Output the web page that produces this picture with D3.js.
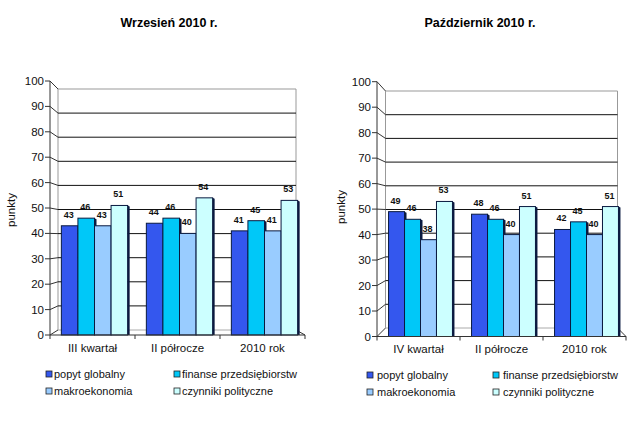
<!DOCTYPE html>
<html><head><meta charset="utf-8">
<script src="https://cdn.jsdelivr.net/npm/d3@7"></script>
<style>body{margin:0;background:#fff}svg{display:block;font-family:"Liberation Sans",Arial,sans-serif}</style>
</head><body><svg id="c" width="640" height="429"></svg>
<script>
const seriesNames = ["popyt globalny","finanse przedsiębiorstw","makroekonomia","czynniki polityczne"];
const seriesColors = ["#3457ee","#00c8f8","#99ccff","#ccffff"];
const yTicks = [0,10,20,30,40,50,60,70,80,90,100];

const titleSep = "Wrzesień 2010 r.";
const catsSep = ["III kwartał","II półrocze","2010 rok"];
const popytSep = [43,44,41];
const finanseSep = [46,46,45];
const makroSep = [43,40,41];
const czynnikiSep = [51,54,53];

const titleOct = "Październik 2010 r.";
const catsOct = ["IV kwartał","II półrocze","2010 rok"];
const popytOct = [49,48,42];
const finanseOct = [46,46,45];
const makroOct = [38,40,40];
const czynnikiOct = [53,51,51];

const svg = d3.select("#c");

function panel(cfg){
  const g = svg.append("g");
  const yF = d3.scaleLinear().domain([0,100]).range([cfg.y0f,cfg.y100f]);
  const yB = d3.scaleLinear().domain([0,100]).range([cfg.y0b,cfg.y100b]);
  const xAxis = d3.scaleBand().domain(cfg.cats).range([cfg.ax0,cfg.ax1]);
  const xBar = d3.scaleBand().domain(cfg.cats).range([cfg.ax0+cfg.barShift,cfg.ax1+cfg.barShift]).paddingInner(cfg.pin).paddingOuter(cfg.pout);
  const xS = d3.scaleBand().domain(d3.range(4)).range([0,xBar.bandwidth()]);

  // title
  g.append("text").attr("x",cfg.tx).attr("y",27).attr("text-anchor","middle")
   .attr("font-weight","bold").attr("font-size",12.5).text(cfg.title);
  // back wall
  g.append("line").attr("x1",cfg.bx0).attr("x2",cfg.bx1).attr("y1",yB(100)).attr("y2",yB(100)).attr("stroke","#999");
  g.append("line").attr("x1",cfg.bx1).attr("x2",cfg.bx1).attr("y1",yB(100)).attr("y2",yB(0)).attr("stroke","#999");
  g.append("line").attr("x1",cfg.bx0).attr("x2",cfg.bx0).attr("y1",yB(100)).attr("y2",yB(0)).attr("stroke","#999");
  g.selectAll(".grid").data(yTicks.filter(v=>v>0&&v<100)).enter().append("line")
   .attr("x1",cfg.bx0).attr("x2",cfg.bx1).attr("y1",d=>yB(d)).attr("y2",d=>yB(d)).attr("stroke","#111");
  g.selectAll(".diag").data(yTicks).enter().append("line")
   .attr("x1",cfg.ax0).attr("y1",d=>yF(d)).attr("x2",cfg.bx0).attr("y2",d=>yB(d)).attr("stroke","#333");
  // floor
  g.append("line").attr("x1",cfg.ax1).attr("y1",yF(0)).attr("x2",cfg.bx1).attr("y2",yB(0)).attr("stroke","#333");
  g.append("line").attr("x1",cfg.bx0).attr("x2",cfg.bx1).attr("y1",yB(0)).attr("y2",yB(0)).attr("stroke","#aaa");

  // bars
  cfg.series.forEach((vals,si)=>{
    const bg = g.append("g");
    bg.selectAll("rect").data(vals).enter().append("rect")
      .attr("x",(d,i)=>xBar(cfg.cats[i])+xS(si))
      .attr("y",d=>yF(d))
      .attr("width",xS.bandwidth())
      .attr("height",d=>yF(0)-yF(d))
      .attr("fill",seriesColors[si]).attr("stroke","#0a1a40").attr("stroke-width",1);
    bg.selectAll("path").data(vals).enter().append("path")
      .attr("d",(d,i)=>{const x=xBar(cfg.cats[i])+xS(si)+xS.bandwidth(), y=yF(d);
        return `M${x},${y}L${x+2},${y+1}L${x+2},${yF(0)}L${x},${yF(0)}Z`;})
      .attr("fill","#0a1a40");
  });
  // data labels
  cfg.series.forEach((vals,si)=>{
    g.selectAll(null).data(vals).enter().append("text")
      .attr("x",(d,i)=>xBar(cfg.cats[i])+xS(si)+xS.bandwidth()/2-1)
      .attr("y",d=>yF(d)-8)
      .attr("text-anchor","middle").attr("font-weight","bold").attr("font-size",9).attr("fill","#111")
      .text(d=>d);
  });

  // front y axis
  g.append("line").attr("x1",cfg.ax0).attr("x2",cfg.ax0).attr("y1",yF(0)).attr("y2",yF(100)).attr("stroke","#333");
  g.selectAll(".yt").data(yTicks).enter().append("line")
   .attr("x1",cfg.ax0-5).attr("x2",cfg.ax0).attr("y1",d=>yF(d)).attr("y2",d=>yF(d)).attr("stroke","#333");
  g.selectAll(".yl").data(yTicks).enter().append("text")
   .attr("x",cfg.ax0-6).attr("y",d=>yF(d)+4).attr("text-anchor","end").attr("font-size",11.5).attr("fill","#111").text(d=>d);
  // front x axis
  g.append("line").attr("x1",cfg.ax0).attr("x2",cfg.ax1).attr("y1",yF(0)).attr("y2",yF(0)).attr("stroke","#333");
  const tickXs = cfg.cats.map(c=>xAxis(c)).concat([cfg.ax1]);
  g.selectAll(".xt").data(tickXs).enter().append("line")
   .attr("x1",d=>d).attr("x2",d=>d).attr("y1",yF(0)).attr("y2",yF(0)+4).attr("stroke","#333");
  g.selectAll(".xl").data(cfg.cats).enter().append("text")
   .attr("x",d=>xAxis(d)+xAxis.bandwidth()/2).attr("y",cfg.catY).attr("text-anchor","middle")
   .attr("font-size",11.5).attr("fill","#111").text(d=>d);
  // y label
  g.append("text").attr("transform",`translate(${cfg.ylx},${cfg.yly}) rotate(-90)`)
   .attr("text-anchor","middle").attr("font-size",11.5).attr("fill","#111").text("punkty");

  // legend
  seriesNames.forEach((n,i)=>{
    const col=i%2,row=Math.floor(i/2);
    const x=cfg.legX[col], y=cfg.legY[row];
    g.append("rect").attr("x",x).attr("y",y-3).attr("width",6).attr("height",6)
      .attr("fill",seriesColors[i]).attr("stroke","#222").attr("stroke-width",0.8);
    g.append("text").attr("x",x+cfg.legGap).attr("y",y+4).attr("font-size",11).attr("fill","#111").text(n);
  });
}

panel({title:titleSep,tx:169,cats:catsSep,series:[popytSep,finanseSep,makroSep,czynnikiSep],
  ax0:50,ax1:305,y0f:335,y100f:81,bx0:58,bx1:296,y0b:330,y100b:89,
  barShift:2,pin:0.22,pout:0.11,catY:352,ylx:15,yly:210,
  legX:[46,174],legY:[374,391],legGap:8});
panel({title:titleOct,tx:480,cats:catsOct,series:[popytOct,finanseOct,makroOct,czynnikiOct],
  ax0:377,ax1:626,y0f:336.5,y100f:81.7,bx0:385.5,bx1:617.5,y0b:328,y100b:91,
  barShift:2,pin:0.23,pout:0.115,catY:353,ylx:345,yly:207,
  legX:[367,493],legY:[375,392],legGap:10});
</script></body></html>
